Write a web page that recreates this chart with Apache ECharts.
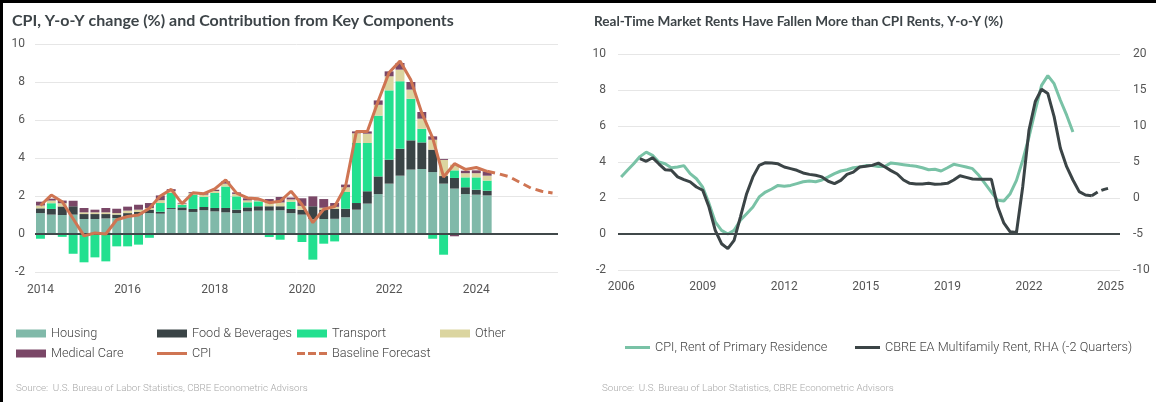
<!DOCTYPE html>
<html>
<head>
<meta charset="utf-8">
<script src="https://cdn.jsdelivr.net/npm/echarts/dist/echarts.min.js"></script>
<style>
  html, body { margin: 0; padding: 0; background: #ffffff; }
  #chart { width: 1156px; height: 402px; }
  #frame { position: absolute; left: 0; top: 0; width: 1156px; height: 402px; box-sizing: border-box;
           border-top: 3px solid #000; border-left: 3px solid #000; pointer-events: none; }
</style>
</head>
<body>
<div id="chart"></div>
<div id="frame"></div>
<script>
// ---------- Left panel: CPI and component contributions (quarterly, 2014Q1 - 2025Q4) ----------
const leftYears = [2014, 2015, 2016, 2017, 2018, 2019, 2020, 2021, 2022, 2023, 2024, 2025];
const leftQuarters = [];
leftYears.forEach(y => { for (let q = 1; q <= 4; q++) leftQuarters.push(y + 'Q' + q); });

const housing   = [1.10,1.02,1.00,1.02,0.79,0.79,0.82,0.84,0.93,1.02,1.10,1.07,1.32,1.25,1.16,1.25,1.19,1.14,1.10,1.19,1.23,1.23,1.25,1.10,1.02,0.79,0.79,0.80,0.88,1.28,1.60,2.10,2.65,3.07,3.39,3.42,3.26,2.65,2.39,2.10,2.07,2.03];
const food      = [0.25,0.30,0.45,0.44,0.26,0.26,0.23,0.18,0.17,0.14,0.18,0.10,0.05,0.15,0.16,0.17,0.18,0.23,0.18,0.21,0.23,0.23,0.21,0.22,0.26,0.67,0.49,0.53,0.45,0.35,0.65,0.93,1.26,1.42,1.54,1.40,1.18,0.40,0.56,0.36,0.26,0.25];
const transport = [-0.25,0.30,-0.15,-1.04,-1.49,-1.23,-1.44,-0.65,-0.65,-0.56,-0.20,0.46,0.79,0.14,0.75,0.53,0.79,1.13,0.70,0.27,0.26,-0.16,-0.30,0.38,-0.42,-1.35,-0.51,-0.39,0.88,3.16,2.54,3.20,3.65,3.55,2.19,0.72,-0.25,-1.09,0.40,0.52,0.65,0.53];
const other     = [0.15,0.14,0.17,0.00,0.09,0.09,0.09,0.08,0.13,0.12,0.09,0.15,0.10,0.06,0.08,0.12,0.10,0.15,0.13,0.10,0.05,0.20,0.20,0.12,0.20,0.00,0.10,0.10,0.25,0.51,0.49,0.57,0.74,0.61,0.48,0.53,0.52,0.85,0.30,0.22,0.22,0.26];
const medical   = [0.20,0.10,0.14,0.29,0.23,0.14,0.23,0.23,0.21,0.26,0.26,0.25,0.10,0.04,0.05,0.08,0.07,0.12,0.08,0.11,0.05,0.18,0.29,0.10,0.40,0.52,0.46,0.20,0.14,0.10,0.12,0.23,0.26,0.35,0.40,0.35,0.18,0.05,-0.12,0.13,0.15,0.23];
const cpi       = [1.50,2.05,1.70,0.80,-0.10,0.05,0.00,0.75,0.92,1.00,1.35,2.00,2.35,1.60,2.17,2.12,2.37,2.85,2.15,1.90,1.85,1.65,1.72,2.25,1.55,0.60,1.30,1.45,2.50,5.40,5.40,7.00,8.50,9.10,8.10,6.37,5.05,3.00,3.70,3.40,3.50,3.30];
// Baseline forecast, 2024Q2 onwards
const forecastStart = 41;
const forecastValues = [3.30,3.18,3.02,2.72,2.42,2.25,2.16];
const forecast = leftQuarters.map((q, i) => i >= forecastStart ? forecastValues[i - forecastStart] : null);

// ---------- Right panel: rents (quarterly, 2006Q1 - 2025Q4) ----------
const rightQuarters = [];
for (let y = 2006; y <= 2025; y++) for (let q = 1; q <= 4; q++) rightQuarters.push(y + 'Q' + q);

// CPI, Rent of Primary Residence (left axis)
const rentCpi = [3.17,3.54,3.90,4.30,4.55,4.37,4.00,3.90,3.68,3.72,3.80,3.35,3.07,2.60,1.70,0.67,0.20,0.00,0.20,0.76,
                 1.13,1.50,2.06,2.33,2.50,2.70,2.65,2.70,2.80,2.90,2.95,2.90,3.00,3.17,3.35,3.50,3.57,3.68,3.72,3.80,
                 3.80,3.75,3.75,3.95,3.90,3.85,3.80,3.76,3.68,3.57,3.60,3.50,3.68,3.87,3.80,3.72,3.63,3.26,2.80,2.33,
                 1.87,1.83,2.24,2.98,4.10,5.40,6.87,8.26,8.80,8.35,7.43,6.60,5.67];
// CBRE EA Multifamily Rent, RHA, shifted -2 quarters (right axis)
const cbreRent = [null,null,null,5.48,5.10,5.60,4.75,3.93,3.85,2.93,2.55,2.23,1.53,1.08,-1.25,-4.50,-6.35,-7.03,-5.88,-2.65,
                  0.60,2.93,4.53,4.90,4.85,4.75,4.30,4.08,3.85,3.48,3.28,3.15,2.93,2.33,2.00,2.45,3.28,3.60,4.30,4.40,
                  4.53,4.85,4.35,3.80,3.33,2.50,2.04,1.94,1.94,2.04,1.90,1.94,2.04,2.50,3.10,2.87,2.64,2.60,2.60,2.60,
                  -1.20,-3.50,-4.70,-4.80,1.57,9.44,13.40,15.10,14.50,11.30,6.90,4.35,2.50,0.88,0.42,0.32];
// CBRE projection continuing the series
const cbreProjStart = 75;
const cbreProjValues = [0.32,0.88,1.20,1.43];
const cbreProj = rightQuarters.map((q, i) =>
  (i >= cbreProjStart && i < cbreProjStart + cbreProjValues.length) ? cbreProjValues[i - cbreProjStart] : null);

// Tick values
const leftTicks = { min: -2, max: 10, interval: 2 };
const rightTicksL = { min: -2, max: 10, interval: 2 };
const rightTicksR = { min: -10, max: 20, interval: 5 };

// ---------- Styling ----------
const C = {
  housing: '#80b9a9', food: '#3a4446', transport: '#22e08f', other: '#dbd5a0', medical: '#7a4767',
  cpi: '#cf7553', rentCpi: '#79c2a6', cbre: '#3b4446', grid: '#e6e6e6', zero: '#40484a',
  axisText: '#555555', title: '#3d4448', legendText: '#454545', source: '#a8a8a8'
};
const FONT = 'Roboto, "Noto Sans", sans-serif';
const axisLabelStyle = { color: C.axisText, fontSize: 12, fontFamily: FONT };
const legendText = { color: C.legendText, fontSize: 12.7, fontFamily: FONT, fontWeight: 300 };

function catAxis(gridIndex, data, interval, margin) {
  return {
    type: 'category', gridIndex, data, boundaryGap: true,
    axisLine: { show: false }, axisTick: { show: false },
    axisLabel: Object.assign({ interval, margin, formatter: v => v.slice(0, 4) }, axisLabelStyle)
  };
}
function valAxis(gridIndex, t, position, margin, showGrid) {
  return {
    type: 'value', gridIndex, position, min: t.min, max: t.max, interval: t.interval,
    axisLine: { show: false }, axisTick: { show: false },
    axisLabel: Object.assign({ margin }, axisLabelStyle),
    splitLine: { show: showGrid, lineStyle: { color: C.grid, width: 1 } }
  };
}
function barSeries(name, data, color) {
  return {
    name, type: 'bar', stack: 'contrib', xAxisIndex: 0, yAxisIndex: 0, data,
    barCategoryGap: '18%', itemStyle: { color }, emphasis: { disabled: true }
  };
}
function legendItem(name, left, top, extra) {
  return Object.assign({
    data: [name], left, top, itemWidth: 30, itemHeight: 8, icon: 'rect',
    textStyle: legendText, selectedMode: false, padding: 0
  }, extra || {});
}

const zeroLine = color => ({
  silent: true, symbol: 'none', label: { show: false },
  lineStyle: { color, width: 2, type: 'solid' }, data: [{ yAxis: 0 }]
});

const option = {
  animation: false,
  backgroundColor: '#ffffff',
  textStyle: { fontFamily: FONT },
  title: [
    { text: 'CPI, Y-o-Y change (%) and Contribution from Key Components', left: 7, top: 8,
      textStyle: { fontFamily: 'Lato, sans-serif', fontSize: 16, fontWeight: 'bold', color: C.title } },
    { text: 'Real-Time Market Rents Have Fallen More than CPI Rents, Y-o-Y (%)', left: 589, top: 10,
      textStyle: { fontFamily: 'Lato, sans-serif', fontSize: 13.6, fontWeight: 'bold', color: C.title } },
    { text: 'Source:  U.S. Bureau of Labor Statistics, CBRE Econometric Advisors', left: 11, top: 379,
      textStyle: { fontFamily: FONT, fontSize: 9.8, fontWeight: 300, color: C.source } },
    { text: 'Source:  U.S. Bureau of Labor Statistics, CBRE Econometric Advisors', left: 597, top: 379,
      textStyle: { fontFamily: FONT, fontSize: 9.8, fontWeight: 300, color: C.source } }
  ],
  grid: [
    { left: 35, top: 44, width: 523, height: 228 },
    { left: 618, top: 54, width: 502, height: 216 }
  ],
  xAxis: [
    catAxis(0, leftQuarters, 7, 12),
    catAxis(1, rightQuarters, 12, 11)
  ],
  yAxis: [
    valAxis(0, leftTicks, 'left', 10, true),
    valAxis(1, rightTicksL, 'left', 12, true),
    valAxis(1, rightTicksR, 'right', 13, false)
  ],
  legend: [
    legendItem('Housing', 16, 327),
    legendItem('Food & Beverages', 157, 327),
    legendItem('Transport', 297, 327),
    legendItem('Other', 440, 327),
    legendItem('Medical Care', 16, 347),
    legendItem('CPI', 157, 347, { itemWidth: 30, itemHeight: 3 }),
    legendItem('Baseline Forecast', 297, 347, {
      itemWidth: 30, itemHeight: 3,
      icon: 'path://M0,0h8v3h-8z M11,0h8v3h-8z M22,0h8v3h-8z'
    }),
    legendItem('CPI, Rent of Primary Residence', 625, 341, { itemWidth: 25, itemHeight: 3 }),
    legendItem('CBRE EA Multifamily Rent, RHA (-2 Quarters)', 855, 341, { itemWidth: 25, itemHeight: 3 })
  ],
  series: [
    Object.assign(barSeries('Housing', housing, C.housing), { markLine: zeroLine(C.zero) }),
    barSeries('Food & Beverages', food, C.food),
    barSeries('Transport', transport, C.transport),
    barSeries('Other', other, C.other),
    barSeries('Medical Care', medical, C.medical),
    {
      name: 'CPI', type: 'line', xAxisIndex: 0, yAxisIndex: 0, data: cpi, z: 5,
      symbol: 'none', lineStyle: { color: C.cpi, width: 3 }, itemStyle: { color: C.cpi }
    },
    {
      name: 'Baseline Forecast', type: 'line', xAxisIndex: 0, yAxisIndex: 0, data: forecast, z: 5,
      symbol: 'none', lineStyle: { color: C.cpi, width: 3, type: [8, 5] }, itemStyle: { color: C.cpi }
    },
    {
      name: 'CPI, Rent of Primary Residence', type: 'line', xAxisIndex: 1, yAxisIndex: 1, data: rentCpi,
      symbol: 'none', lineStyle: { color: C.rentCpi, width: 3 }, itemStyle: { color: C.rentCpi },
      markLine: zeroLine(C.zero)
    },
    {
      name: 'CBRE EA Multifamily Rent, RHA (-2 Quarters)', type: 'line', xAxisIndex: 1, yAxisIndex: 2,
      data: cbreRent, symbol: 'none', lineStyle: { color: C.cbre, width: 3 }, itemStyle: { color: C.cbre }
    },
    {
      name: 'CBRE projection', type: 'line', xAxisIndex: 1, yAxisIndex: 2, data: cbreProj,
      symbol: 'none', lineStyle: { color: C.cbre, width: 3, type: [7, 4] }, itemStyle: { color: C.cbre }
    }
  ]
};

const chart = echarts.init(document.getElementById('chart'), null, { renderer: 'canvas' });
chart.setOption(option);
</script>
</body>
</html>
